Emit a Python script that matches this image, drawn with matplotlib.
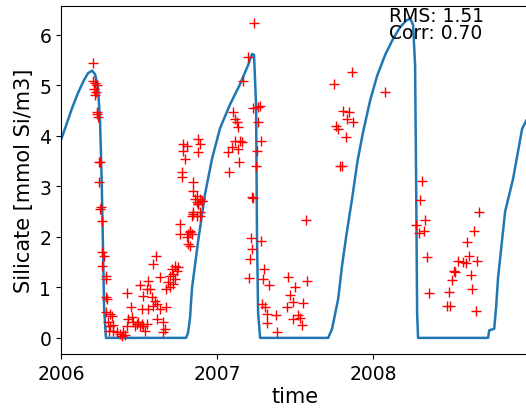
import numpy as np
import matplotlib
matplotlib.use("Agg")
import matplotlib.pyplot as plt

# modelo (tiempo en años decimales, silicato)
model_time = [2006.000, 2006.032, 2006.071, 2006.109, 2006.147, 2006.173, 2006.199,
              2006.218, 2006.237, 2006.250, 2006.260, 2006.269, 2006.276, 2006.288,
              2006.801, 2006.814, 2006.827, 2006.833, 2006.840, 2006.878, 2006.923,
              2006.968, 2007.019, 2007.083, 2007.147, 2007.199, 2007.224, 2007.237,
              2007.250, 2007.256, 2007.263, 2007.276, 2007.712, 2007.737, 2007.776,
              2007.801, 2007.827, 2007.865, 2007.900, 2007.936, 2007.981, 2008.026,
              2008.077, 2008.128, 2008.173, 2008.212, 2008.237, 2008.256, 2008.269,
              2008.276, 2008.282, 2008.288, 2008.737, 2008.744, 2008.776, 2008.788,
              2008.801, 2008.846, 2008.897, 2008.955, 2008.981]
model_si = [3.92, 4.20, 4.55, 4.85, 5.10, 5.24, 5.29,
            5.22, 4.95, 4.30, 3.20, 1.80, 0.60, 0.00,
            0.00, 0.10, 0.40, 0.70, 1.00, 1.90, 2.85,
            3.55, 4.15, 4.62, 5.02, 5.40, 5.62, 5.60,
            4.60, 2.00, 0.50, 0.00, 0.00, 0.18, 0.77,
            1.43, 2.00, 2.75, 3.50, 4.08, 4.70, 5.19,
            5.60, 5.92, 6.15, 6.28, 6.32, 6.20, 5.40,
            3.00, 0.50, 0.00, 0.00, 0.15, 0.18, 0.60,
            1.20, 2.50, 3.15, 4.14, 4.30]

# observaciones (posición en px leída -> se convierte abajo)
obs_px = [92.7, 93, 95, 97, 94, 96, 95, 97, 98, 97, 99, 100, 99,
          100, 101, 102, 102, 104, 102, 106, 106, 106, 107, 106, 110, 112, 108,
          110, 113, 109, 113, 117, 120, 123, 125, 122, 127, 128, 127, 131, 132,
          133, 135, 137, 138, 140, 142, 143, 145, 147, 140, 143, 147, 148, 150,
          152, 148, 142, 153, 155, 157, 160, 163, 165, 163, 166, 157, 153, 156,
          160, 166, 168, 170, 172, 173, 175, 177, 178, 170, 173, 175, 180, 180,
          188, 190, 188, 187, 192, 193, 197, 198, 200, 202,
          183, 187, 198, 200, 183, 185, 198, 182, 182, 193, 193, 197, 195, 200,
          202, 198, 193, 197, 200, 190, 192, 190,
          254, 248, 243, 253, 258, 260, 258, 261, 257, 256, 252, 233, 235, 237,
          238, 235, 240, 242, 238, 232, 228, 239, 229,
          253, 306, 251, 261, 252, 250, 264, 249, 263, 269, 288, 307, 295, 290,
          293, 303, 287, 262, 265, 267, 276, 267, 298, 293, 300, 302, 277,
          352, 334, 385, 343, 349, 347, 353, 336, 338, 346, 340, 342,
          422, 420, 425, 416, 419, 424, 427, 429, 479, 474, 467, 469, 458, 463,
          466, 477, 454, 455, 452, 471, 449, 472, 447, 450, 476]
obs_si = [5.44, 5.09, 5.05, 5.00, 4.93, 4.87, 4.80, 4.44, 4.37, 4.47, 3.49, 3.48, 3.09,
          2.55, 2.59, 2.32, 1.70, 1.63, 1.43, 1.23, 1.17, 0.81, 0.77, 0.51, 0.48, 0.44, 0.32,
          0.24, 0.26, 0.14, 0.14, 0.12, 0.08, 0.12, 0.06, 0.04, 0.24, 0.38, 0.89, 0.61, 0.42,
          0.32, 0.24, 0.28, 0.32, 0.24, 0.28, 0.24, 0.14, 0.28, 1.05, 0.83, 0.97, 1.13, 0.97,
          0.81, 0.57, 0.57, 0.63, 0.73, 0.38, 0.57, 0.32, 0.18, 0.12, 0.61, 0.67, 1.47, 1.63,
          1.21, 0.97, 1.11, 1.23, 1.37, 1.27, 1.17, 1.33, 1.41, 1.01, 1.07, 1.43, 2.26, 2.06,
          2.06, 2.12, 1.86, 2.00, 2.42, 2.46, 2.69, 2.65, 2.50, 2.71,
          3.84, 3.80, 3.94, 3.84, 3.70, 3.54, 3.68, 3.29, 3.19, 3.09, 2.91, 2.81, 2.75, 2.75,
          2.71, 2.65, 2.50, 2.42, 2.42, 2.10, 2.06, 1.82,
          6.24, 5.56, 5.09, 4.55, 4.57, 4.59, 4.28, 3.90, 3.70, 3.41, 2.79, 4.47, 4.34, 4.28,
          4.18, 3.90, 3.90, 3.88, 3.74, 3.78, 3.68, 3.49, 3.29,
          2.77, 2.34, 1.98, 1.92, 1.76, 1.56, 1.37, 1.19, 1.17, 1.05, 1.21, 1.13, 1.01, 0.85,
          0.71, 0.69, 0.61, 0.67, 0.61, 0.48, 0.46, 0.30, 0.46, 0.38, 0.40, 0.26, 0.12,
          5.27, 5.03, 4.87, 4.50, 4.47, 4.34, 4.28, 4.20, 4.14, 3.98, 3.41, 3.41,
          3.11, 2.73, 2.34, 2.24, 2.08, 2.12, 1.60, 0.89, 2.50, 2.12, 1.90, 1.62, 1.52, 1.50,
          1.49, 1.52, 1.33, 1.31, 1.15, 1.25, 0.91, 0.97, 0.63, 0.63, 0.53]

obs_time = 2006 + (np.array(obs_px) - 61) / 156.0

rms = 1.51
corr = 0.70

fig = plt.figure(figsize=(5.26, 4.10), dpi=100)
ax = fig.add_axes([0.116, 0.134, 0.89, 0.849])

ax.plot(model_time, model_si, color="#1f77b4", lw=1.8)
ax.plot(obs_time, obs_si, "r+", ms=7, mew=1.0)

ax.set_xlim(2006, 2009)
ax.set_ylim(-0.32, 6.57)
ax.set_xticks([2006, 2007, 2008])
ax.set_xticklabels(["2006", "2007", "2008"])
ax.set_yticks(range(0, 7))
ax.tick_params(labelsize=13.5)
ax.set_xlabel("time", fontsize=15, labelpad=2)
ax.set_ylabel("Silicate [mmol Si/m3]", fontsize=15)

ax.text(2008.1, 6.56, f"RMS: {rms:.2f}\nCorr: {corr:.2f}", fontsize=13.5,
        va="top", ha="left", linespacing=0.85)

fig.savefig("out.png", dpi=100)
